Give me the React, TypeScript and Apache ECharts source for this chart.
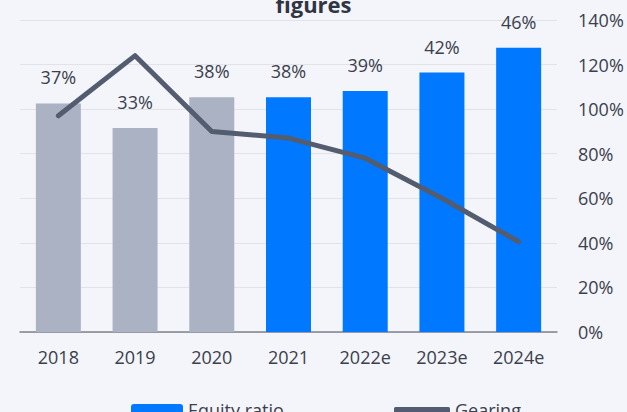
import React, { useEffect, useRef } from "react";
import * as echarts from "echarts";

const categories = ["2018", "2019", "2020", "2021", "2022e", "2023e", "2024e"];
const equityRatio = [37, 33, 38, 38, 39, 42, 46];
const gearing = [97, 124, 90, 87, 78, 60, 40.5];
const historicCount = 3;
const rightTicks = { min: 0, max: 140, interval: 20 };

const FONT = "'Open Sans', sans-serif";
const TEXT = "#3a404c";

export default function App() {
  const ref = useRef<HTMLDivElement>(null);
  useEffect(() => {
    const chart = echarts.init(ref.current!, null, { renderer: "svg" });
    chart.setOption({
      animation: false,
      backgroundColor: "#f4f5fa",
      textStyle: { fontFamily: FONT },
      title: {
        text: "figures",
        left: "center",
        top: -12,
        textStyle: { fontSize: 22, fontWeight: "bold", color: "#2f3542", fontFamily: FONT },
      },
      legend: [
        {
          data: ["Equity ratio"],
          left: 131,
          top: 401,
          padding: 0,
          itemWidth: 52,
          itemHeight: 12,
          itemGap: 5,
          textStyle: { fontSize: 18, color: TEXT, fontFamily: FONT },
        },
        {
          data: [{ name: "Gearing", icon: "roundRect" }],
          left: 394,
          top: 401,
          padding: 0,
          itemWidth: 56,
          itemHeight: 6,
          textStyle: { fontSize: 18, color: TEXT, fontFamily: FONT },
        },
      ],
      grid: { left: 20, right: 70, top: 20, bottom: 80, containLabel: false },
      xAxis: {
        type: "category",
        data: categories,
        axisTick: { show: false },
        axisLine: { lineStyle: { color: "#7d828c", width: 1.5 } },
        axisLabel: { color: TEXT, fontSize: 18, margin: 16, fontFamily: FONT },
      },
      yAxis: [
        { type: "value", min: 0, max: 50.5, show: false, splitLine: { show: false } },
        {
          type: "value",
          position: "right",
          min: rightTicks.min,
          max: rightTicks.max,
          interval: rightTicks.interval,
          axisLine: { show: false },
          axisTick: { show: false },
          axisLabel: { formatter: "{value}%", color: TEXT, fontSize: 18, margin: 21, fontFamily: FONT },
          splitLine: { lineStyle: { color: "#e1e3e9", width: 1 } },
        },
      ],
      series: [
        {
          name: "Equity ratio",
          type: "bar",
          yAxisIndex: 0,
          barWidth: 45,
          itemStyle: { color: "#0078ff" },
          data: equityRatio.map((v, i) => ({
            value: v,
            itemStyle: { color: i < historicCount ? "#abb2c3" : "#0078ff" },
          })),
          label: {
            show: true,
            position: "top",
            distance: 17,
            formatter: "{c}%",
            color: TEXT,
            fontSize: 18,
            fontFamily: FONT,
          },
        },
        {
          name: "Gearing",
          type: "line",
          yAxisIndex: 1,
          data: gearing,
          showSymbol: false,
          symbol: "none",
          itemStyle: { color: "#535d6f" },
          lineStyle: { color: "#535d6f", width: 5, cap: "round", join: "round" },
        },
      ],
    });
    return () => chart.dispose();
  }, []);
  return (
    <div
      ref={ref}
      style={{ position: "fixed", left: 0, top: 0, width: 627, height: 412 }}
    />
  );
}
